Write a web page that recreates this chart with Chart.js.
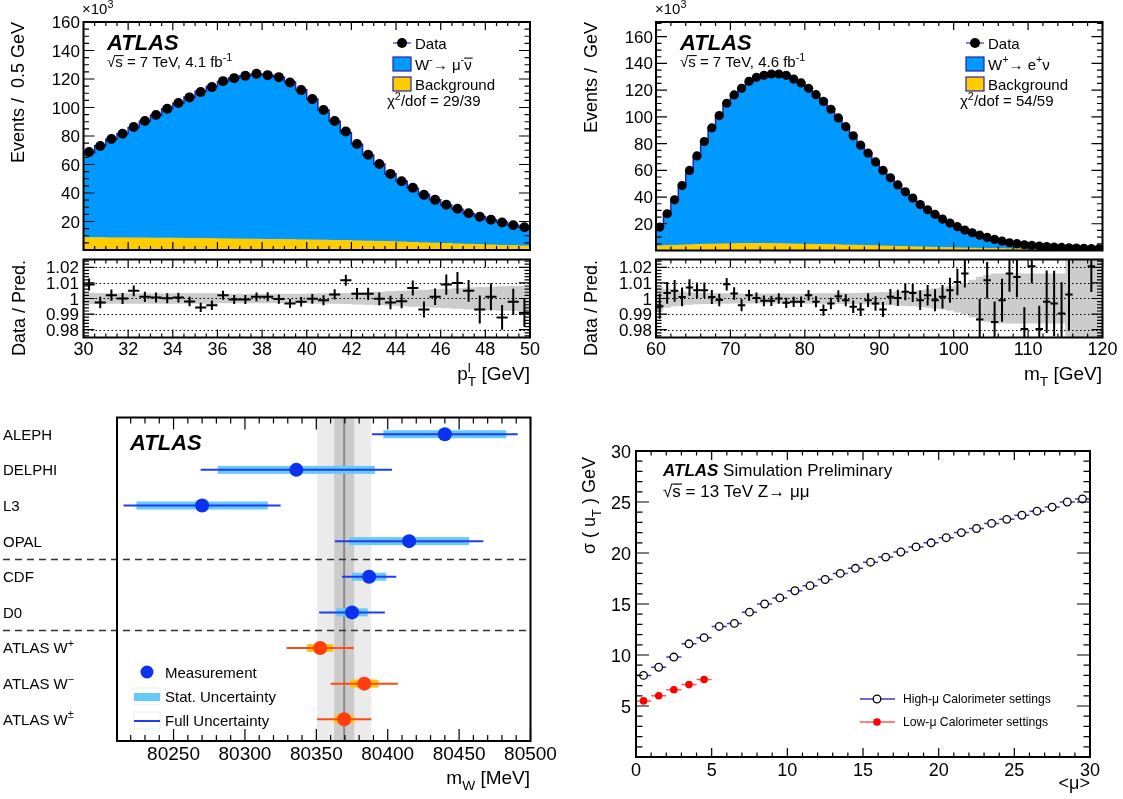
<!DOCTYPE html>
<html>
<head>
<meta charset="utf-8">
<title>W mass measurement</title>
<script src="https://cdn.jsdelivr.net/npm/chart.js@4.4.1/dist/chart.umd.min.js"></script>
<style>
  html, body { margin: 0; padding: 0; background: #fff; }
  #wrap { position: relative; width: 1123px; height: 799px; overflow: hidden; background: #fff; }
  #wrap canvas { position: absolute; left: 0; top: 0; }
</style>
</head>
<body>
<div id="wrap">
  <canvas id="ptMain" width="1123" height="799"></canvas>
  <canvas id="ptRatio" width="1123" height="799"></canvas>
  <canvas id="mtMain" width="1123" height="799"></canvas>
  <canvas id="mtRatio" width="1123" height="799"></canvas>
  <canvas id="mwChart" width="1123" height="799"></canvas>
  <canvas id="muChart" width="1123" height="799"></canvas>
</div>
<script>
// ---- muon pT, W- -> mu- nubar (0.5 GeV bins from 30 GeV), events x10^3
const ptBinLo = 30, ptBinW = 0.5;
const ptData = [68.8, 73.0, 77.9, 81.6, 86.3, 90.5, 94.7, 99.1, 103.1, 107.1,
  110.8, 114.3, 118.5, 120.6, 122.2, 123.6, 122.7, 121.3, 117.5, 112.2,
  105.9, 98.2, 90.5, 83.2, 74.4, 66.9, 60.4, 53.4, 48.2, 43.6,
  38.7, 35.2, 31.7, 28.9, 25.8, 23.3, 21.2, 19.3, 17.4, 16.0];
const ptSignal = [59.6, 64.6, 69.2, 73.1, 77.5, 82.0, 86.3, 90.8, 94.8, 99.2,
  103.4, 106.9, 110.5, 113.0, 114.7, 116.0, 115.2, 114.0, 110.7, 105.3,
  98.9, 91.4, 83.6, 75.6, 67.8, 60.5, 54.4, 47.7, 42.7, 38.0,
  34.0, 30.4, 26.9, 24.4, 21.7, 19.8, 17.7, 16.3, 14.4, 13.3];
const ptBkg = [8.6, 8.6, 8.5, 8.5, 8.4, 8.4, 8.3, 8.3, 8.2, 8.1,
  8.0, 7.9, 7.8, 7.7, 7.6, 7.5, 7.4, 7.3, 7.2, 7.1,
  7.0, 6.9, 6.7, 6.6, 6.4, 6.2, 6.0, 5.8, 5.6, 5.3,
  5.0, 4.8, 4.5, 4.2, 4.0, 3.7, 3.5, 3.2, 3.0, 2.8];
const ptRatio = [1.009, 0.9974, 1.0021, 1.0, 1.0049, 1.0011, 1.0006, 1.0002, 1.0006, 0.9981,
  0.9943, 0.9957, 1.0021, 0.9994, 0.9994, 1.0011, 1.0011, 0.9996, 0.9968, 0.9979,
  0.9998, 0.9989, 1.0026, 1.0117, 1.003, 1.003, 0.9998, 0.9974, 0.9983, 1.0068,
  0.993, 1.0011, 1.0089, 1.01, 1.0049, 0.993, 1.0011, 0.9879, 0.9979, 0.9909];
const ptRatioErr = [0.0038, 0.0037, 0.0036, 0.0035, 0.0034, 0.0033, 0.0032, 0.0032, 0.0031, 0.0031,
  0.003, 0.003, 0.0029, 0.0029, 0.0029, 0.0028, 0.0029, 0.0029, 0.0029, 0.003,
  0.0031, 0.0032, 0.0033, 0.0035, 0.0037, 0.0039, 0.0041, 0.0043, 0.0046, 0.0048,
  0.0051, 0.0053, 0.0065, 0.007, 0.007, 0.009, 0.0086, 0.008, 0.0084, 0.009];
const ptBand = [0.0037, 0.0035, 0.0033, 0.0033, 0.0033, 0.0033, 0.0033, 0.0033, 0.0033, 0.0033,
  0.0033, 0.0033, 0.003, 0.003, 0.003, 0.003, 0.003, 0.003, 0.003, 0.003,
  0.0032, 0.0033, 0.0034, 0.0035, 0.0038, 0.004, 0.0043, 0.0046, 0.005, 0.0053,
  0.0056, 0.006, 0.0063, 0.0066, 0.007, 0.0073, 0.0076, 0.0078, 0.008, 0.008];
const ptTicks = [30, 32, 34, 36, 38, 40, 42, 44, 46, 48, 50];

// ---- transverse mass, W+ -> e+ nu (1 GeV bins from 60 GeV), events x10^3
const mtBinLo = 60, mtBinW = 1;
const mtData = [17.5, 27.5, 37.9, 48.6, 59.9, 70.8, 81.5, 91.7, 101.0, 110.2,
  116.4, 121.4, 126.6, 129.6, 131.1, 132.1, 132.1, 131.1, 128.3, 125.4,
  121.4, 116.6, 111.6, 105.7, 99.2, 92.7, 85.8, 78.8, 72.8, 66.3,
  59.9, 54.4, 49.1, 43.9, 39.2, 34.4, 30.5, 27.0, 23.5, 20.5,
  17.8, 15.3, 13.3, 11.5, 9.8, 8.3, 7.0, 5.8, 5.1, 4.3,
  3.8, 3.3, 2.9, 2.6, 2.3, 2.0, 1.8, 1.6, 1.4, 1.3];
const mtSignal = [14.2, 23.8, 33.9, 44.6, 55.3, 66.0, 76.5, 86.9, 96.3, 104.3,
  111.0, 116.8, 121.1, 124.3, 126.1, 127.2, 127.1, 126.6, 123.8, 121.0,
  116.5, 112.3, 108.0, 101.7, 94.9, 88.8, 82.4, 75.6, 69.3, 63.0,
  57.0, 51.1, 46.1, 40.8, 36.4, 31.8, 28.0, 24.7, 21.4, 18.4,
  15.7, 13.3, 11.3, 10.2, 8.3, 7.0, 5.7, 4.5, 3.9, 3.4,
  2.75, 2.45, 2.05, 1.8, 1.55, 1.3, 1.15, 1.0, 0.82, 0.8];
const mtBkg = [3.4, 3.6, 3.8, 4.0, 4.2, 4.4, 4.6, 4.7, 4.8, 4.9,
  5.0, 5.1, 5.2, 5.2, 5.2, 5.1, 5.0, 4.9, 4.8, 4.7,
  4.6, 4.5, 4.4, 4.3, 4.2, 4.0, 3.9, 3.8, 3.6, 3.5,
  3.3, 3.2, 3.0, 2.9, 2.7, 2.6, 2.4, 2.3, 2.1, 2.0,
  1.9, 1.8, 1.7, 1.6, 1.5, 1.4, 1.3, 1.2, 1.1, 1.0,
  0.95, 0.9, 0.85, 0.8, 0.75, 0.7, 0.65, 0.6, 0.55, 0.5];
const mtRatio = [0.995, 1.0036, 1.0049, 1.001, 1.007, 1.0053, 1.0053, 1.001, 0.999, 1.0091,
  1.0032, 0.9957, 1.0021, 1.0004, 0.9985, 0.9985, 1.0, 0.9972, 0.9979, 0.9979,
  1.0021, 0.9979, 0.9926, 0.9968, 1.0015, 0.9989, 0.9947, 0.993, 0.9989, 0.9968,
  0.993, 1.0011, 1.0004, 1.0043, 1.0036, 0.9989, 1.0021, 0.9989, 1.0011, 1.0053,
  1.0106, 1.016, null, 0.9866, 1.0117, 0.985, 0.9989, 1.016, 1.0138, 0.9804,
  1.0206, 0.9804, 0.9979, 0.9968, 0.9904, 1.0026, null, null, 1.0206, null];
const mtRatioErr = [0.008, 0.007, 0.007, 0.006, 0.0053, 0.005, 0.005, 0.0045, 0.004, 0.004,
  0.004, 0.0038, 0.0035, 0.0035, 0.0034, 0.0033, 0.0033, 0.0033, 0.0033, 0.0034,
  0.0034, 0.0035, 0.0036, 0.0037, 0.0038, 0.0039, 0.004, 0.0042, 0.0044, 0.0046,
  0.0048, 0.005, 0.0052, 0.0055, 0.0058, 0.0062, 0.0066, 0.007, 0.0075, 0.008,
  0.0085, 0.009, 0.01, 0.013, 0.0117, 0.013, 0.0138, 0.0117, 0.013, 0.014,
  0.011, 0.015, 0.02, 0.021, 0.02, 0.023, 0.025, 0.027, 0.0165, 0.03];
const mtBand = [0.0075, 0.006, 0.005, 0.0045, 0.004, 0.0037, 0.0036, 0.0035, 0.0034, 0.0033,
  0.0032, 0.0032, 0.0032, 0.0032, 0.0032, 0.0032, 0.0032, 0.0032, 0.0032, 0.0032,
  0.0033, 0.0033, 0.0034, 0.0034, 0.0035, 0.0035, 0.0036, 0.0037, 0.0038, 0.004,
  0.0042, 0.0044, 0.0046, 0.0048, 0.005, 0.0055, 0.006, 0.0065, 0.007, 0.0078,
  0.009, 0.01, 0.012, 0.014, 0.015, 0.016, 0.016, 0.016, 0.016, 0.016,
  0.016, 0.016, 0.016, 0.016, 0.016, 0.025, 0.025, 0.025, 0.025, 0.025];
const mtTicks = [60, 70, 80, 90, 100, 110, 120];

const eventTicks = [20, 40, 60, 80, 100, 120, 140, 160];
const ratioTicks = [1.02, 1.01, 1, 0.99, 0.98];
const ratioLabels = ['1.02', '1.01', '1', '0.99', '0.98'];

// ---- W mass measurements [MeV]
const experiments = ['ALEPH', 'DELPHI', 'L3', 'OPAL', 'CDF', 'D0', 'ATLAS W+', 'ATLAS W-', 'ATLAS W\u00b1'];
const mwValue = [80440, 80336, 80270, 80415, 80387, 80375, 80352.7, 80383.6, 80369.5];
const mwStat = [43, 55, 46, 42, 12, 11, 9, 10, 7];
const mwTotal = [51, 67, 55, 52, 19, 23, 23.5, 23.5, 19];
const mwComb = 80369.5, mwCombStat = 7, mwCombTotal = 19;
const mwTicks = [80250, 80300, 80350, 80400, 80450, 80500];
const mwSeparators = [3.5, 5.5];

// ---- sigma(uT) vs <mu>
const muBins = [0.5, 1.5, 2.5, 3.5, 4.5, 5.5, 6.5, 7.5, 8.5, 9.5, 10.5, 11.5, 12.5, 13.5, 14.5,
  15.5, 16.5, 17.5, 18.5, 19.5, 20.5, 21.5, 22.5, 23.5, 24.5, 25.5, 26.5, 27.5, 28.5, 29.5];
const sigmaHighMu = [8.0, 8.8, 9.8, 11.1, 11.7, 12.8, 13.1, 14.2, 15.0, 15.6, 16.3, 16.8, 17.4, 18.0, 18.5,
  19.1, 19.6, 20.1, 20.6, 21.0, 21.5, 22.0, 22.4, 22.9, 23.3, 23.7, 24.1, 24.5, 25.0, 25.3];
const sigmaLowMu = [5.5, 6.0, 6.6, 7.1, 7.6];
const muTicks = [0, 5, 10, 15, 20, 25, 30];
const sigmaTicks = [5, 10, 15, 20, 25, 30];

const W = 1123, H = 799;
const FONT = '"Liberation Sans", Arial, Helvetica, sans-serif';
const BLUE = '#0099ff', ORANGE = '#ffcc00', EDGE = '#2323a8';

// text with super/subscripts; parts are strings or [text, mode]
function richText(ctx, parts, x, y, size, opt) {
  opt = opt || {};
  const style = opt.style || '';
  const segs = parts.map(p => {
    const t = typeof p === 'string' ? p : p[0];
    const m = typeof p === 'string' ? '' : p[1];
    const s = (m === 'sup' || m === 'sub' || m === 'sup0') ? size * 0.72 : size;
    ctx.font = `${style} ${s}px ${FONT}`;
    const w = ctx.measureText(t).width;
    return { t, m, s, w, adv: m === 'sup0' ? 0 : w };
  });
  const total = segs.reduce((acc, g) => acc + g.adv, 0);
  let cx = opt.align === 'right' ? x - total : opt.align === 'center' ? x - total / 2 : x;
  ctx.textAlign = 'left';
  ctx.textBaseline = 'alphabetic';
  ctx.fillStyle = '#000';
  segs.forEach(g => {
    ctx.font = `${style} ${g.s}px ${FONT}`;
    let dy = 0;
    if (g.m === 'sup' || g.m === 'sup0') dy = -size * 0.42;
    if (g.m === 'sub') dy = size * 0.3;
    ctx.fillText(g.t, cx, y + dy);
    if (g.m === 'over') {
      ctx.strokeStyle = '#000';
      ctx.lineWidth = Math.max(1, size * 0.07);
      ctx.beginPath();
      ctx.moveTo(cx, y - size * 0.76);
      ctx.lineTo(cx + g.w + 1, y - size * 0.76);
      ctx.stroke();
    }
    cx += g.adv;
  });
  return total;
}

function vTitle(ctx, parts, cx, topY, size) {
  ctx.save();
  ctx.translate(cx, topY);
  ctx.rotate(-Math.PI / 2);
  richText(ctx, parts, 0, size * 0.36, size, { align: 'right' });
  ctx.restore();
}

// histogram outline: one point per low bin edge, plus the upper edge of the last bin
function hist(values, lo, w) {
  const pts = values.map((v, i) => ({ x: lo + i * w, y: v }));
  pts.push({ x: lo + values.length * w, y: values[values.length - 1] });
  return pts;
}

function centers(values, lo, w) {
  return values.map((v, i) => ({ x: lo + (i + 0.5) * w, y: v }));
}

// frame with inward ticks, and dotted reference lines
const rootFrame = {
  id: 'rootFrame',
  afterDatasetsDraw(chart, args, o) {
    if (!o.hgrid) return;
    const { ctx, chartArea: a, scales: { y } } = chart;
    ctx.save();
    ctx.strokeStyle = '#000';
    ctx.lineWidth = 1;
    ctx.setLineDash([1.5, 2.5]);
    ctx.beginPath();
    o.hgrid.forEach(v => {
      const p = Math.round(y.getPixelForValue(v)) + 0.5;
      ctx.moveTo(a.left, p);
      ctx.lineTo(a.right, p);
    });
    ctx.stroke();
    ctx.restore();
  },
  afterDraw(chart, args, o) {
    if (!o.lw) return;
    const { ctx, chartArea: a, scales } = chart;
    ctx.save();
    ctx.strokeStyle = '#000';
    ctx.lineWidth = 1.2;
    ['x', 'y'].forEach(axis => {
      const cfg = o[axis];
      if (!cfg) return;
      const sc = scales[axis];
      const lo = Math.min(sc.min, sc.max), hi = Math.max(sc.min, sc.max);
      const marks = [];
      [[cfg.minor, cfg.minLen], [cfg.major, cfg.majLen]].forEach(([step, len]) => {
        for (let k = Math.ceil(lo / step - 1e-6); k <= Math.floor(hi / step + 1e-6); k++) marks.push([k * step, len]);
      });
      ctx.beginPath();
      marks.forEach(([v, len]) => {
        const p = sc.getPixelForValue(v);
        cfg.sides.forEach(s => {
          if (s === 'bottom') { ctx.moveTo(p, a.bottom); ctx.lineTo(p, a.bottom - len); }
          if (s === 'top') { ctx.moveTo(p, a.top); ctx.lineTo(p, a.top + len); }
          if (s === 'left') { ctx.moveTo(a.left, p); ctx.lineTo(a.left + len, p); }
          if (s === 'right') { ctx.moveTo(a.right, p); ctx.lineTo(a.right - len, p); }
        });
      });
      ctx.stroke();
    });
    ctx.lineWidth = o.lw;
    ctx.strokeRect(a.left, a.top, a.right - a.left, a.bottom - a.top);
    ctx.restore();
  }
};

function drawErrorBars(chart, under) {
  const { ctx, chartArea: a, scales: { x, y } } = chart;
  ctx.save();
  ctx.beginPath();
  ctx.rect(a.left, a.top, a.right - a.left, a.bottom - a.top);
  ctx.clip();
  chart.data.datasets.forEach(ds => {
    const eb = ds.errorBars;
    if (!eb || !!eb.under !== under) return;
    ctx.strokeStyle = eb.color;
    ctx.lineWidth = eb.width;
    ctx.beginPath();
    ds.data.forEach(p => {
      if (p.y == null) return;
      const px = x.getPixelForValue(p.x), py = y.getPixelForValue(p.y);
      if (p.ex) { ctx.moveTo(x.getPixelForValue(p.x - p.ex), py); ctx.lineTo(x.getPixelForValue(p.x + p.ex), py); }
      if (p.ey) { ctx.moveTo(px, y.getPixelForValue(p.y - p.ey)); ctx.lineTo(px, y.getPixelForValue(p.y + p.ey)); }
    });
    ctx.stroke();
  });
  ctx.restore();
}

const errorBars = {
  id: 'errorBars',
  beforeDatasetsDraw(chart) { drawErrorBars(chart, true); },
  afterDatasetsDraw(chart) { drawErrorBars(chart, false); }
};

Chart.register(rootFrame, errorBars);

function baseOptions(area, xr, yr) {
  return {
    responsive: false,
    animation: false,
    devicePixelRatio: 1,
    events: [],
    layout: { padding: { left: area[0], top: area[1], right: W - area[2], bottom: H - area[3] } },
    plugins: { legend: { display: false }, tooltip: { enabled: false } },
    scales: {
      x: { type: 'linear', display: false, min: xr[0], max: xr[1] },
      y: { type: 'linear', display: false, min: yr[0], max: yr[1] }
    }
  };
}

function histLegend(ctx, x0, sigParts, chi) {
  ctx.strokeStyle = '#5a5ad2';
  ctx.lineWidth = 1.5;
  ctx.beginPath();
  ctx.moveTo(x0, 43); ctx.lineTo(x0 + 18, 43);
  ctx.stroke();
  ctx.fillStyle = '#000';
  ctx.beginPath();
  ctx.arc(x0 + 9, 43, 5, 0, 2 * Math.PI);
  ctx.fill();
  richText(ctx, ['Data'], x0 + 22, 48.5, 15);
  [[BLUE, 57, sigParts], [ORANGE, 77, ['Background']]].forEach(([c, top, parts]) => {
    ctx.fillStyle = c;
    ctx.fillRect(x0, top, 18, 14);
    ctx.strokeStyle = EDGE;
    ctx.lineWidth = 1.2;
    ctx.strokeRect(x0, top, 18, 14);
    richText(ctx, parts, x0 + 22, top + 12.5, 15);
  });
  richText(ctx, chi, x0 - 6, 106, 15);
}

function mainPanel(id, area, xr, ymax, lo, w, data, sig, bkg, radius, xMajor, xMinor, drawText) {
  const opts = baseOptions(area, xr, [0, ymax]);
  opts.scales.y.stacked = true;
  opts.plugins.rootFrame = {
    lw: 2,
    x: { major: xMajor, minor: xMinor, majLen: 8, minLen: 4, sides: ['bottom', 'top'] },
    y: { major: 20, minor: 5, majLen: 11, minLen: 5.5, sides: ['left', 'right'] }
  };
  return new Chart(document.getElementById(id), {
    type: 'line',
    data: {
      datasets: [
        { label: 'Data', data: centers(data, lo, w), stack: 'data', showLine: false,
          pointRadius: radius, pointBackgroundColor: '#000', pointBorderWidth: 0 },
        { label: 'Background', data: hist(bkg, lo, w), stack: 'mc', stepped: 'before', fill: 'origin',
          backgroundColor: ORANGE, borderColor: ORANGE, borderWidth: 1, pointRadius: 0 },
        { label: 'Signal', data: hist(sig, lo, w), stack: 'mc', stepped: 'before', fill: '-1',
          backgroundColor: BLUE, borderColor: EDGE, borderWidth: 1.5, pointRadius: 0 }
      ]
    },
    options: opts,
    plugins: [{ id: id + 'Text', afterDraw: drawText }]
  });
}

function ratioPanel(id, area, xr, lo, w, ratio, err, band, xMajor, xMinor, drawText) {
  const opts = baseOptions(area, xr, [0.975, 1.025]);
  opts.plugins.rootFrame = {
    lw: 2,
    hgrid: ratioTicks,
    x: { major: xMajor, minor: xMinor, majLen: 8, minLen: 4, sides: ['bottom', 'top'] },
    y: { major: 0.01, minor: 0.002, majLen: 11, minLen: 5.5, sides: ['left', 'right'] }
  };
  return new Chart(document.getElementById(id), {
    type: 'line',
    data: {
      datasets: [
        { label: 'Data / Pred.', showLine: false, pointRadius: 0,
          data: ratio.map((v, i) => ({ x: lo + (i + 0.5) * w, y: v, ex: w / 2, ey: err[i] })),
          errorBars: { color: '#000', width: 2 } },
        { label: 'band low', data: hist(band.map(b => 1 - b), lo, w), stepped: 'before', fill: false,
          borderColor: 'rgba(0,0,0,0)', borderWidth: 1, pointRadius: 0 },
        { label: 'band high', data: hist(band.map(b => 1 + b), lo, w), stepped: 'before', fill: '-1',
          backgroundColor: '#cccccc', borderColor: 'rgba(0,0,0,0)', borderWidth: 1, pointRadius: 0 }
      ]
    },
    options: opts,
    plugins: [{ id: id + 'Text', afterDraw: drawText }]
  });
}

// ---------- top left
mainPanel('ptMain', [83.5, 22, 530, 250], [30, 50], 160, ptBinLo, ptBinW, ptData, ptSignal, ptBkg, 5, 2, 0.5,
  function (chart) {
    const ctx = chart.ctx, y = chart.scales.y;
    ctx.save();
    richText(ctx, ['ATLAS'], 107, 49.5, 22, { style: 'italic bold' });
    richText(ctx, ['\u221a', ['s', 'over'], ' = 7 TeV, 4.1 fb', ['-1', 'sup']], 107, 67, 15);
    richText(ctx, ['\u00d710', ['3', 'sup']], 82, 14, 15);
    eventTicks.forEach(v => richText(ctx, [String(v)], 80, y.getPixelForValue(v) + 6, 17, { align: 'right' }));
    histLegend(ctx, 393, ['W', ['-', 'sup'], '\u2192 \u03bc', ['-', 'sup'], ['\u03bd', 'over']],
      ['\u03c7', ['2', 'sup'], '/dof = 29/39']);
    vTitle(ctx, ['Events /  0.5 GeV'], 18, 22, 18);
    ctx.restore();
  });

ratioPanel('ptRatio', [83.5, 259.5, 530, 337.5], [30, 50], ptBinLo, ptBinW, ptRatio, ptRatioErr, ptBand, 2, 0.5,
  function (chart) {
    const ctx = chart.ctx, x = chart.scales.x, y = chart.scales.y;
    ctx.save();
    ratioTicks.forEach((v, i) => richText(ctx, [ratioLabels[i]], 79, y.getPixelForValue(v) + 6, 17, { align: 'right' }));
    ptTicks.forEach(v => richText(ctx, [String(v)], x.getPixelForValue(v), 355, 18, { align: 'center' }));
    richText(ctx, ['p', ['l', 'sup0'], ['T', 'sub'], ' [GeV]'], 530, 380, 19, { align: 'right' });
    vTitle(ctx, ['Data / Pred.'], 19, 260, 18);
    ctx.restore();
  });

// ---------- top right
mainPanel('mtMain', [656, 22, 1102.5, 250.5], [60, 120], 171, mtBinLo, mtBinW, mtData, mtSignal, mtBkg, 4.6, 10, 2,
  function (chart) {
    const ctx = chart.ctx, y = chart.scales.y;
    ctx.save();
    richText(ctx, ['ATLAS'], 680, 49.5, 22, { style: 'italic bold' });
    richText(ctx, ['\u221a', ['s', 'over'], ' = 7 TeV, 4.6 fb', ['-1', 'sup']], 680, 67, 15);
    richText(ctx, ['\u00d710', ['3', 'sup']], 655, 14, 15);
    eventTicks.forEach(v => richText(ctx, [String(v)], 653, y.getPixelForValue(v) + 6, 17, { align: 'right' }));
    histLegend(ctx, 966, ['W', ['+', 'sup'], '\u2192 e', ['+', 'sup'], '\u03bd'],
      ['\u03c7', ['2', 'sup'], '/dof = 54/59']);
    vTitle(ctx, ['Events /  GeV'], 591, 22, 18);
    ctx.restore();
  });

ratioPanel('mtRatio', [656, 259.5, 1102.5, 337.5], [60, 120], mtBinLo, mtBinW, mtRatio, mtRatioErr, mtBand, 10, 2,
  function (chart) {
    const ctx = chart.ctx, x = chart.scales.x, y = chart.scales.y;
    ctx.save();
    ratioTicks.forEach((v, i) => richText(ctx, [ratioLabels[i]], 652, y.getPixelForValue(v) + 6, 17, { align: 'right' }));
    mtTicks.forEach(v => richText(ctx, [String(v)], x.getPixelForValue(v), 355, 18, { align: 'center' }));
    richText(ctx, ['m', ['T', 'sub'], ' [GeV]'], 1102, 380, 19, { align: 'right' });
    vTitle(ctx, ['Data / Pred.'], 591, 260, 18);
    ctx.restore();
  });

// ---------- bottom left: W mass summary
(function () {
  const opts = baseOptions([117, 417.5, 530.5, 741], [80210.4, 80500], [-0.47, 8.61]);
  opts.scales.y.reverse = true;
  opts.plugins.rootFrame = {
    lw: 2,
    x: { major: 50, minor: 10, majLen: 12, minLen: 6, sides: ['bottom', 'top'] }
  };
  const bands = {
    id: 'mwBands',
    beforeDatasetsDraw(chart) {
      const { ctx, chartArea: a, scales: { x, y } } = chart;
      const px = v => x.getPixelForValue(v);
      ctx.save();
      ctx.fillStyle = '#ebebeb';
      ctx.fillRect(px(mwComb - mwCombTotal), a.top, px(mwComb + mwCombTotal) - px(mwComb - mwCombTotal), a.bottom - a.top);
      ctx.fillStyle = '#cbcbcb';
      ctx.fillRect(px(mwComb - mwCombStat), a.top, px(mwComb + mwCombStat) - px(mwComb - mwCombStat), a.bottom - a.top);
      ctx.strokeStyle = '#8a8a8a';
      ctx.lineWidth = 2;
      ctx.beginPath();
      ctx.moveTo(px(mwComb), a.top); ctx.lineTo(px(mwComb), a.bottom);
      ctx.stroke();
      ctx.strokeStyle = '#333';
      ctx.lineWidth = 1.3;
      ctx.setLineDash([7, 5]);
      ctx.beginPath();
      mwSeparators.forEach(s => {
        const py = Math.round(y.getPixelForValue(s)) + 0.5;
        ctx.moveTo(3, py); ctx.lineTo(a.right, py);
      });
      ctx.stroke();
      ctx.setLineDash([]);
      mwValue.forEach((v, i) => {
        const atlas = i >= 6;
        const py = y.getPixelForValue(i);
        ctx.fillStyle = atlas ? '#ffc20e' : '#66c9f6';
        ctx.fillRect(px(v - mwStat[i]), py - 4, px(v + mwStat[i]) - px(v - mwStat[i]), 8);
        ctx.strokeStyle = atlas ? '#ff4a1a' : '#1f3cf0';
        ctx.lineWidth = 2;
        ctx.beginPath();
        ctx.moveTo(px(v - mwTotal[i]), py); ctx.lineTo(px(v + mwTotal[i]), py);
        ctx.stroke();
      });
      ctx.restore();
    },
    afterDraw(chart) {
      const { ctx, scales: { x, y } } = chart;
      ctx.save();
      experiments.forEach((name, i) => {
        const py = y.getPixelForValue(i) + 5.4;
        const m = name.match(/^(ATLAS W)(.)$/);
        if (m) richText(ctx, [m[1], [m[2] === '-' ? '\u2212' : m[2], 'sup']], 3, py, 15);
        else richText(ctx, [name], 3, py, 15);
      });
      richText(ctx, ['ATLAS'], 130, 450, 22, { style: 'italic bold' });
      mwTicks.forEach(v => richText(ctx, [String(v)], x.getPixelForValue(v), 760, 19, { align: 'center' }));
      richText(ctx, ['m', ['W', 'sub'], ' [MeV]'], 530, 784, 19, { align: 'right' });
      // legend
      ctx.fillStyle = '#0a32f0';
      ctx.beginPath(); ctx.arc(147, 672, 6.5, 0, 2 * Math.PI); ctx.fill();
      richText(ctx, ['Measurement'], 165, 677.5, 15);
      ctx.strokeStyle = '#eeeeee'; ctx.lineWidth = 1;
      ctx.strokeRect(134, 688, 26, 17);
      ctx.strokeRect(134, 712, 26, 17);
      ctx.fillStyle = '#66c9f6';
      ctx.fillRect(134, 693, 26, 8);
      richText(ctx, ['Stat. Uncertainty'], 165, 702, 15);
      ctx.strokeStyle = '#1f3cf0'; ctx.lineWidth = 2;
      ctx.beginPath(); ctx.moveTo(134, 721); ctx.lineTo(160, 721); ctx.stroke();
      richText(ctx, ['Full Uncertainty'], 165, 726, 15);
      ctx.restore();
    }
  };
  new Chart(document.getElementById('mwChart'), {
    type: 'scatter',
    data: {
      labels: experiments,
      datasets: [{
        label: 'Measurement',
        data: mwValue.map((v, i) => ({ x: v, y: i })),
        pointRadius: 7,
        pointBorderWidth: 0,
        pointBackgroundColor: mwValue.map((v, i) => i >= 6 ? '#ff3d0d' : '#0a32f0')
      }]
    },
    options: opts,
    plugins: [bands]
  });
})();

// ---------- bottom right: sigma(uT) vs <mu>
(function () {
  const opts = baseOptions([636, 451, 1090, 757], [0, 30], [0, 30]);
  opts.plugins.rootFrame = {
    lw: 2,
    x: { major: 5, minor: 1, majLen: 9, minLen: 4.5, sides: ['bottom', 'top'] },
    y: { major: 5, minor: 1, majLen: 13, minLen: 6.5, sides: ['left', 'right'] }
  };
  const text = {
    id: 'muText',
    afterDraw(chart) {
      const { ctx, scales: { x, y } } = chart;
      ctx.save();
      muTicks.forEach(v => richText(ctx, [String(v)], x.getPixelForValue(v), 776, 18, { align: 'center' }));
      sigmaTicks.forEach(v => richText(ctx, [String(v)], 631, y.getPixelForValue(v) + 6.5, 18, { align: 'right' }));
      richText(ctx, ['<\u03bc>'], 1090, 789, 18, { align: 'right' });
      vTitle(ctx, ['\u03c3 ( u', ['T', 'sub'], ' ) GeV'], 589, 457, 18);
      const w = richText(ctx, ['ATLAS'], 663, 476, 17, { style: 'italic bold' });
      richText(ctx, [' Simulation Preliminary'], 663 + w, 476, 17);
      richText(ctx, ['\u221a', ['s', 'over'], ' = 13 TeV Z\u2192 \u03bc\u03bc'], 663, 497, 17);
      // legend
      ctx.lineWidth = 1.5;
      ctx.strokeStyle = '#3b3bc4';
      ctx.beginPath(); ctx.moveTo(860, 699); ctx.lineTo(895, 699); ctx.stroke();
      ctx.fillStyle = '#fff'; ctx.strokeStyle = '#000'; ctx.lineWidth = 1.3;
      ctx.beginPath(); ctx.arc(877, 699, 3.8, 0, 2 * Math.PI); ctx.fill(); ctx.stroke();
      richText(ctx, ['High-\u03bc Calorimeter settings'], 903, 703, 12.2);
      ctx.strokeStyle = '#ff5a5a'; ctx.lineWidth = 1.5;
      ctx.beginPath(); ctx.moveTo(860, 722); ctx.lineTo(895, 722); ctx.stroke();
      ctx.fillStyle = '#ff0000';
      ctx.beginPath(); ctx.arc(877, 722, 3.8, 0, 2 * Math.PI); ctx.fill();
      richText(ctx, ['Low-\u03bc Calorimeter settings'], 903, 726, 12.2);
      ctx.restore();
    }
  };
  new Chart(document.getElementById('muChart'), {
    type: 'scatter',
    data: {
      datasets: [
        { label: 'High-\u03bc Calorimeter settings',
          data: muBins.map((m, i) => ({ x: m, y: sigmaHighMu[i], ex: 0.5 })),
          pointRadius: 3.8, pointBackgroundColor: '#fff', pointBorderColor: '#000', pointBorderWidth: 1.3,
          errorBars: { color: '#3b3bc4', width: 1.5, under: true } },
        { label: 'Low-\u03bc Calorimeter settings',
          data: sigmaLowMu.map((s, i) => ({ x: muBins[i], y: s, ex: 0.5 })),
          pointRadius: 3.8, pointBackgroundColor: '#ff0000', pointBorderColor: '#ff0000', pointBorderWidth: 0,
          errorBars: { color: '#ff5a5a', width: 1.5, under: true } }
      ]
    },
    options: opts,
    plugins: [text]
  });
})();
</script>
</body>
</html>
